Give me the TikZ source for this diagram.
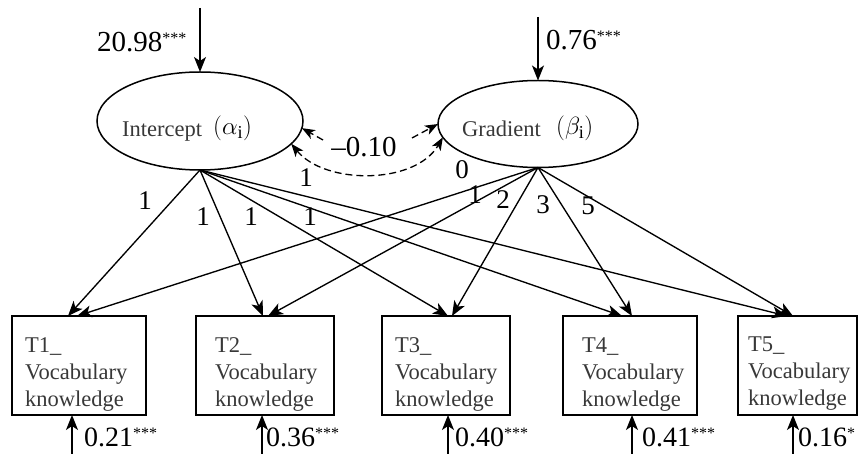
\documentclass[tikz,border=0pt]{standalone}
\usepackage{fontspec}
\setmainfont{Liberation Serif}
\usetikzlibrary{arrows.meta,shapes.geometric}
\definecolor{txtgray}{gray}{0.22}
\newcommand{\mystars}[1]{\raisebox{8pt}{\fontsize{16}{16}\selectfont #1}}
\begin{document}
\begin{tikzpicture}[x=1pt,y=-1pt,
  arr/.style={-{Stealth[length=15pt,width=12pt,inset=4pt]}, line width=1.35pt},
  dsh/.style={dash pattern=on 7pt off 4pt, line width=1.3pt},
  dboth/.style={{Stealth[length=13pt,width=10pt,inset=3.5pt]}-{Stealth[length=13pt,width=10pt,inset=3.5pt]}},
  dend/.style={-{Stealth[length=13pt,width=10pt,inset=3.5pt]}},
  lat/.style={draw, ellipse, line width=1.5pt, inner sep=0pt, outer sep=0pt},
  obs/.style={draw, rectangle, line width=1.5pt, inner sep=0pt, outer sep=0pt, minimum height=99pt, anchor=north west},
  lbl/.style={font=\fontsize{27}{27}\selectfont, inner sep=0pt},
  big/.style={font=\fontsize{29}{29}\selectfont, inner sep=0pt, anchor=base west},
  res/.style={font=\fontsize{28}{28}\selectfont, inner sep=0pt, anchor=base west},
  ltxt/.style={font=\fontsize{22.5}{22.5}\selectfont, text=txtgray, inner sep=0pt, anchor=base west},
  gtxt/.style={font=\fontsize{26}{26}\selectfont, inner sep=0pt, anchor=base west},
  btxt/.style={font=\fontsize{22.5}{27}\selectfont, text=txtgray, align=left, anchor=north west, inner sep=0pt}]
\useasboundingbox (0,0) rectangle (863,454);

% latent variables
\node[lat, minimum width=206pt, minimum height=98pt] (I) at (200,121) {};
\node[lat, minimum width=200pt, minimum height=87pt] (G) at (538,124) {};
\node[ltxt] (itxt) at (122,137) {Intercept};
\node[gtxt] (ialpha) at (213,135) {$(\alpha_{\mathrm{i}})$};
\node[ltxt] (gtxtn) at (462,137) {Gradient};
\node[gtxt] (gbeta) at (556,135) {$(\beta_{\mathrm{i}})$};

% incoming variance arrows
\coordinate (iin) at (200,8);
\coordinate (gin) at (538,17);
\draw[arr] (iin) -- (I.north);
\draw[arr] (gin) -- (G.north);
\node[big] (ivar) at (97,52) {20.98\mystars{***}};
\node[big] (gvar) at (546,50) {0.76\mystars{***}};

% covariance
\coordinate (ca) at (323,140);
\coordinate (cb) at (412,138);
\draw[dsh, dboth] (I.-14) .. controls (325,185) and (415,185) .. (G.188);
\draw[dsh, dend] (ca) -- (I.-4);
\draw[dsh, dend] (cb) -- (G.180.6);
\node[font=\fontsize{29}{29}\selectfont, inner sep=0pt, anchor=base] (cov) at (364,157) {--0.10};

% observed boxes
\node[obs, minimum width=134pt] (t1) at (12,316) {};
\node[obs, minimum width=138pt] (t2) at (196,316) {};
\node[obs, minimum width=128pt] (t3) at (382,316) {};
\node[obs, minimum width=134pt] (t4) at (563,316) {};
\node[obs, minimum width=119pt] (t5) at (738,316) {};
\node[btxt] (x1) at (25,337) {T1\_\\Vocabulary\\knowledge};
\node[btxt] (x2) at (215,337) {T2\_\\Vocabulary\\knowledge};
\node[btxt] (x3) at (395,337) {T3\_\\Vocabulary\\knowledge};
\node[btxt] (x4) at (582,337) {T4\_\\Vocabulary\\knowledge};
\node[btxt] (x5) at (748,337) {T5\_\\Vocabulary\\knowledge};

% loadings
\draw[arr] (I.south) -- ([xshift=-11pt]t1.north);
\draw[arr] (I.south) -- ([xshift=-2pt]t2.north);
\draw[arr] (I.south) -- ([xshift=2pt]t3.north);
\draw[arr] (I.south) -- ([xshift=-8pt]t4.north);
\draw[arr] (I.south) -- ([xshift=-10.5pt]t5.north);
\draw[arr] (G.south) -- ([xshift=-2pt]t1.north);
\draw[arr] (G.south) -- ([xshift=3pt]t2.north);
\draw[arr] (G.south) -- ([xshift=6pt]t3.north);
\draw[arr] (G.south) -- ([xshift=2pt]t4.north);
\draw[arr] (G.south) -- ([xshift=-4.5pt]t5.north);

\node[lbl] (l1) at (145,201) {1};
\node[lbl] (l2) at (203,217) {1};
\node[lbl] (l3) at (251,217) {1};
\node[lbl] (l4) at (310,217) {1};
\node[lbl] (l5) at (306,178) {1};
\node[lbl] (m1) at (462,170) {0};
\node[lbl] (m2) at (475,195) {1};
\node[lbl] (m3) at (503,200) {2};
\node[lbl] (m4) at (543,205) {3};
\node[lbl] (m5) at (588,206) {5};

% residuals
\coordinate (b1) at (72,454);
\coordinate (b2) at (262,454);
\coordinate (b3) at (448,454);
\coordinate (b4) at (632,454);
\coordinate (b5) at (793,454);
\draw[arr] (b1) -- (b1 |- t1.south);
\draw[arr] (b2) -- (b2 |- t2.south);
\draw[arr] (b3) -- (b3 |- t3.south);
\draw[arr] (b4) -- (b4 |- t4.south);
\draw[arr] (b5) -- (b5 |- t5.south);
\node[res] (r1) at (84,447) {0.21\mystars{***}};
\node[res] (r2) at (266,447) {0.36\mystars{***}};
\node[res] (r3) at (455,447) {0.40\mystars{***}};
\node[res] (r4) at (642,447) {0.41\mystars{***}};
\node[res] (r5) at (798,447) {0.16\mystars{*}};
\end{tikzpicture}
\end{document}
